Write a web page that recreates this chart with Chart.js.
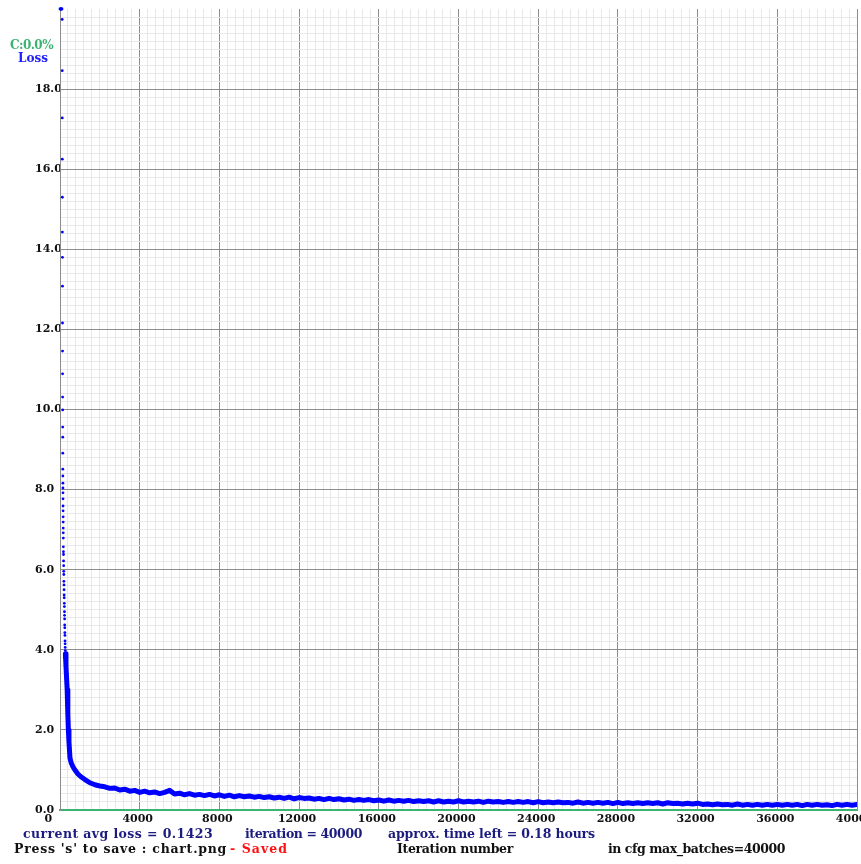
<!DOCTYPE html>
<html><head><meta charset="utf-8">
<script src="https://cdn.jsdelivr.net/npm/chart.js@4.4.1/dist/chart.umd.min.js"></script>
<style>
html,body{margin:0;padding:0;background:#fff;overflow:hidden;}
#wrap{position:relative;width:861px;height:864px;}
#wrap canvas{position:absolute;left:0;top:0;}
.t{position:absolute;white-space:nowrap;font-family:"DejaVu Serif";font-weight:bold;line-height:1;}
</style></head><body>
<div id="wrap"><canvas id="c" width="861" height="864"></canvas>
<div class="t" data-x="10" data-base="49" data-w="43" data-fs="12" style="color:#3cb371">C:0.0%</div>
<div class="t" data-x="18" data-base="62" data-w="30" data-fs="12" style="color:#2020ff">Loss</div>
<div class="t" data-x="23" data-base="839" data-w="190" data-fs="12.5" style="color:#1c1c80">current avg loss = 0.1423</div>
<div class="t" data-x="245" data-base="839" data-w="117" data-fs="12.5" style="color:#1c1c80">iteration = 40000</div>
<div class="t" data-x="388" data-base="839" data-w="207" data-fs="12.5" style="color:#1c1c80">approx. time left = 0.18 hours</div>
<div class="t" data-x="14" data-base="854" data-w="213" data-fs="12.5" style="color:#111">Press 's' to save : chart.png</div>
<div class="t" data-x="230" data-base="854" data-w="58" data-fs="12.5" style="color:#ff1010">- Saved</div>
<div class="t" data-x="397" data-base="854" data-w="116" data-fs="12.5" style="color:#111">Iteration number</div>
<div class="t" data-x="608" data-base="854" data-w="177" data-fs="12.5" style="color:#111">in cfg max_batches=40000</div>
</div>
<script>
// Major tick labels
const xMajorTicks = [0, 4000, 8000, 12000, 16000, 20000, 24000, 28000, 32000, 36000, 40000];
const yMajorTicks = [0, 2, 4, 6, 8, 10, 12, 14, 16, 18];

// Early, sparse per-iteration points (shown as dots)
const earlyIter = [0, 20, 40, 60, 80, 100,
  110, 112, 114, 116, 118, 120, 122, 124, 126, 128, 130, 132, 134, 136, 138,
  140, 142, 144, 146, 148, 150, 152, 154, 156, 158, 160, 162, 164, 166, 168,
  172, 176, 180, 184, 188, 192, 196, 200, 204, 208, 212, 216, 220, 224, 228,
  232, 236, 240, 244, 248, 252, 256, 260, 264];
const earlyLoss = [20, 20, 20, 20, 20, 20,
  19.74, 18.46, 17.28, 16.25, 15.30, 14.43, 13.80, 13.08, 12.16, 11.46, 10.89, 10.31, 9.99, 9.56, 9.31,
  8.91, 8.51, 8.34, 8.16, 8.04, 7.92, 7.77, 7.59, 7.47, 7.32, 7.19, 7.04, 6.92, 6.79, 6.57,
  6.45, 6.38, 6.22, 6.10, 5.96, 5.88, 5.71, 5.62, 5.50, 5.37, 5.30, 5.16, 5.08, 4.95, 4.86,
  4.77, 4.62, 4.55, 4.43, 4.36, 4.22, 4.15, 4.06, 3.98];

// Main loss curve
const lossIter = [270, 300, 330, 360, 385, 400, 420, 450, 500, 560, 650, 750, 900, 1050, 1250, 1500, 1750, 2000,
  2250, 2500, 2750, 3000, 3250, 3500, 3750, 4000, 4250, 4500, 4750, 5000, 5250, 5500, 5750, 6000,
  6250, 6500, 6750, 7000, 7250, 7500, 7750, 8000, 8250, 8500, 8750, 9000, 9250, 9500, 9750, 10000,
  10250, 10500, 10750, 11000, 11250, 11500, 11750, 12000, 12250, 12500, 12750, 13000, 13250, 13500, 13750, 14000,
  14250, 14500, 14750, 15000, 15250, 15500, 15750, 16000, 16250, 16500, 16750, 17000, 17250, 17500, 17750, 18000,
  18250, 18500, 18750, 19000, 19250, 19500, 19750, 20000, 20250, 20500, 20750, 21000, 21250, 21500, 21750, 22000,
  22250, 22500, 22750, 23000, 23250, 23500, 23750, 24000, 24250, 24500, 24750, 25000, 25250, 25500, 25750, 26000,
  26250, 26500, 26750, 27000, 27250, 27500, 27750, 28000, 28250, 28500, 28750, 29000, 29250, 29500, 29750, 30000,
  30250, 30500, 30750, 31000, 31250, 31500, 31750, 32000, 32250, 32500, 32750, 33000, 33250, 33500, 33750, 34000,
  34250, 34500, 34750, 35000, 35250, 35500, 35750, 36000, 36250, 36500, 36750, 37000, 37250, 37500, 37750, 38000,
  38250, 38500, 38750, 39000, 39250, 39500, 39750, 40000];
const lossVal = [3.9, 3.6, 3.3, 3.0, 2.7, 2.4, 2.0, 1.7, 1.3, 1.18, 1.08, 1.0, 0.9, 0.83, 0.76, 0.68, 0.63, 0.60,
  0.58, 0.54, 0.55, 0.50, 0.52, 0.47, 0.49, 0.44, 0.47, 0.43, 0.45, 0.41, 0.44, 0.49, 0.40, 0.42,
  0.38, 0.41, 0.37, 0.39, 0.36, 0.39, 0.35, 0.38, 0.34, 0.37, 0.33, 0.36, 0.33, 0.35, 0.32, 0.34,
  0.31, 0.33, 0.30, 0.32, 0.29, 0.32, 0.28, 0.31, 0.29, 0.30, 0.27, 0.29, 0.26, 0.29, 0.26, 0.28,
  0.25, 0.27, 0.24, 0.26, 0.24, 0.26, 0.23, 0.25, 0.22, 0.25, 0.22, 0.24, 0.22, 0.24, 0.21, 0.23,
  0.21, 0.23, 0.20, 0.23, 0.20, 0.22, 0.20, 0.23, 0.20, 0.22, 0.20, 0.22, 0.19, 0.22, 0.20, 0.21,
  0.19, 0.21, 0.19, 0.21, 0.19, 0.21, 0.18, 0.21, 0.18, 0.20, 0.18, 0.20, 0.18, 0.19, 0.17, 0.20,
  0.17, 0.19, 0.17, 0.19, 0.17, 0.19, 0.16, 0.19, 0.16, 0.18, 0.16, 0.18, 0.16, 0.18, 0.16, 0.18,
  0.15, 0.18, 0.16, 0.17, 0.15, 0.17, 0.15, 0.17, 0.14, 0.15, 0.13, 0.15, 0.13, 0.14, 0.12, 0.15,
  0.12, 0.14, 0.12, 0.14, 0.12, 0.14, 0.12, 0.14, 0.12, 0.14, 0.12, 0.14, 0.11, 0.14, 0.12, 0.14,
  0.12, 0.13, 0.11, 0.14, 0.12, 0.14, 0.12, 0.14];

const MAJOR = '#8c8c8c', MINOR = '#e8e8e8';
const isMajor = (v, arr) => arr.some(a => Math.abs(a - v) < 1e-6);
const tickFont = {family: 'DejaVu Serif', weight: 'bold', size: 11};

new Chart(document.getElementById('c'), {
  type: 'scatter',
  data: {
    datasets: [
      {
        label: 'Loss',
        data: lossIter.map((x, i) => ({x: x, y: lossVal[i]})),
        showLine: true,
        borderColor: '#0000ff',
        backgroundColor: '#0000ff',
        borderWidth: 5,
        pointRadius: 0,
        tension: 0,
        borderJoinStyle: 'round',
        borderCapStyle: 'round'
      },
      {
        label: 'early',
        data: earlyIter.map((x, i) => ({x: x, y: earlyLoss[i]})),
        showLine: false,
        pointRadius: 1.4,
        borderWidth: 0,
        backgroundColor: '#0000ff',
        clip: false
      }
    ]
  },
  options: {
    responsive: false,
    animation: false,
    events: [],
    layout: {padding: {left: 35, top: 9, right: 1, bottom: 0}},
    plugins: {legend: {display: false}, tooltip: {enabled: false}},
    scales: {
      x: {
        type: 'linear', min: 0, max: 40000,
        ticks: {
          stepSize: 400, autoSkip: false, maxRotation: 0, minRotation: 0,
          padding: 3, labelOffset: -2, color: '#111', font: tickFont,
          callback: v => v === 0 ? '0     ' : (isMajor(v, xMajorTicks) ? String(v) : '')
        },
        grid: {
          drawTicks: false, lineWidth: 1,
          color: c => isMajor(c.tick.value, xMajorTicks) ? MAJOR : MINOR
        },
        border: {display: true, color: '#3cb371', width: 2},
        afterFit: s => { s.paddingLeft = 0; s.paddingRight = 0; s.height = 54; }
      },
      y: {
        type: 'linear', min: 0, max: 20,
        ticks: {
          stepSize: 0.2, autoSkip: false, crossAlign: 'far', padding: 0,
          color: '#111', font: tickFont,
          callback: v => isMajor(v, yMajorTicks) ? v.toFixed(1) : ''
        },
        grid: {
          drawTicks: false, lineWidth: 1,
          color: c => Math.abs(c.tick.value - 20) < 1e-6 ? 'rgba(0,0,0,0)' : (isMajor(c.tick.value, yMajorTicks) ? MAJOR : MINOR)
        },
        border: {display: true, color: '#8c8c8c', width: 1},
        afterFit: s => { s.width = 25; s.paddingTop = 0; s.paddingBottom = 0; }
      }
    }
  }
});

// Position overlay texts: left edge, baseline, fitted width
document.querySelectorAll('.t').forEach(el => {
  const fs = parseFloat(el.dataset.fs);
  el.style.fontSize = fs + 'px';
  el.style.left = el.dataset.x + 'px';
  el.style.top = (parseFloat(el.dataset.base) - 0.846 * fs) + 'px';
  const w = el.getBoundingClientRect().width;
  const n = el.textContent.length;
  const target = parseFloat(el.dataset.w);
  el.style.letterSpacing = ((target - w) / n) + 'px';
});
</script>
</body></html>
